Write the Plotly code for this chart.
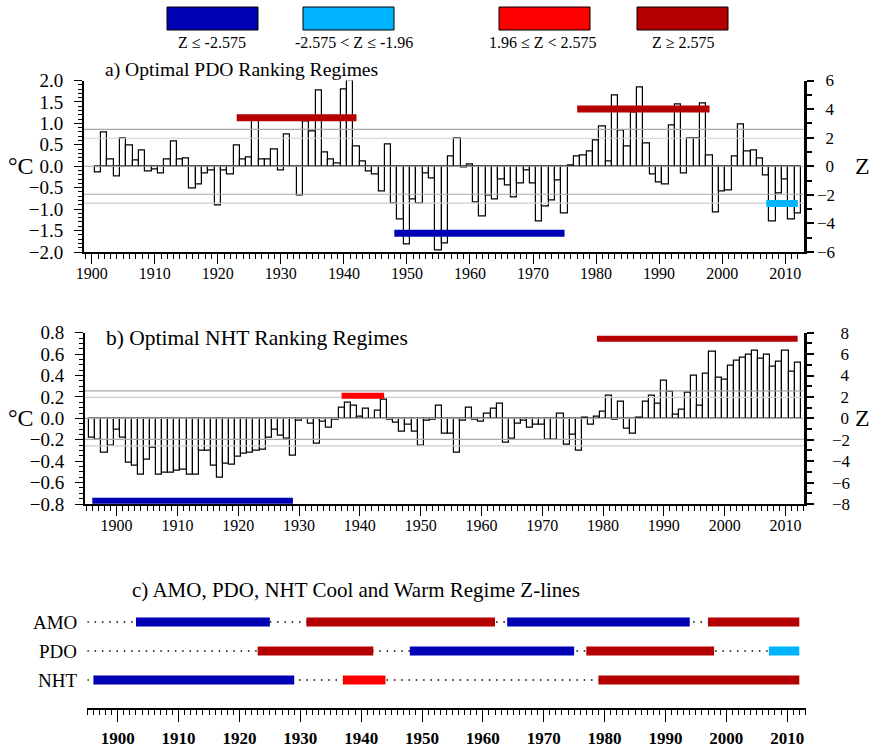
import plotly.graph_objects as go

# ---------------- data ----------------
pdo_years = list(range(1901, 2013))
pdo_values = [
    -0.14, 0.78, 0.16, -0.25, 0.65, 0.49, 0.14, 0.375, -0.125, -0.08,   # 1901-1910
    -0.16, 0.16, 0.58, 0.16, 0.18, -0.52, -0.43, -0.16, -0.09, -0.92,   # 1911-1920
    -0.09, -0.20, 0.48, 0.16, 0.20, 1.10, 0.16, 0.16, 0.40, -0.09,      # 1921-1930
    0.75, -0.01, -0.68, 1.05, 0.80, 1.76, 0.32, 0.16, 0.06, 1.78,       # 1931-1940
    2.00, 0.47, 0.12, -0.13, -0.19, -0.59, 0.51, -0.875, -1.24, -1.83,  # 1941-1950
    -0.77, -0.875, -0.16, -0.29, -1.97, -1.81, 0.23, 0.65, -0.03, 0.05, # 1951-1960
    -0.84, -1.17, -0.68, -0.77, -0.31, -0.46, -0.74, -0.41, -0.09, -0.41,  # 1961-1970
    -1.30, -0.93, -0.81, -0.34, -1.11, 0.01, 0.23, 0.25, 0.34, 0.61,    # 1971-1980
    0.92, 0.11, 1.66, 0.84, 0.45, 1.26, 1.84, 0.53, -0.19, -0.37,       # 1981-1990
    -0.43, 0.94, 1.45, -0.17, 0.65, 0.65, 1.47, 0.24, -1.07, -0.60,     # 1991-2000
    -0.56, 0.22, 0.98, 0.35, 0.37, 0.18, -0.21, -1.30, -0.625, -0.31,   # 2001-2010
    -1.24, -1.11,                                                       # 2011-2012
]

nht_years = list(range(1896, 2013))
nht_values = [
    -0.18, -0.20, -0.32, -0.26,                                         # 1896-1899
    -0.11, -0.18, -0.41, -0.44, -0.53, -0.39, -0.27, -0.53, -0.51, -0.51,  # 1900-1909
    -0.49, -0.48, -0.53, -0.53, -0.30, -0.30, -0.44, -0.55, -0.42, -0.43,  # 1910-1919
    -0.36, -0.33, -0.32, -0.30, -0.29, -0.18, -0.11, -0.16, -0.19, -0.35,  # 1920-1929
    -0.02, -0.005, -0.05, -0.24, -0.03, -0.085, -0.016, 0.10, 0.15, 0.12,  # 1930-1939
    0.016, 0.094, -0.006, 0.07, 0.17, -0.016, -0.04, -0.12, -0.06, -0.12,  # 1940-1949
    -0.26, -0.025, -0.01, 0.12, -0.14, -0.14, -0.32, -0.025, 0.10, -0.01,  # 1950-1959
    -0.03, 0.04, 0.09, 0.135, -0.23, -0.19, -0.05, -0.02, -0.085, -0.06,   # 1960-1969
    -0.06, -0.195, -0.20, 0.04, -0.25, -0.15, -0.305, 0.01, -0.06, 0.02,   # 1970-1979
    0.066, 0.21, -0.016, 0.16, -0.094, -0.14, 0.01, 0.154, 0.21, 0.14,     # 1980-1989
    0.35, 0.245, 0.035, 0.08, 0.24, 0.40, 0.116, 0.42, 0.62, 0.38,         # 1990-1999
    0.36, 0.49, 0.54, 0.57, 0.59, 0.635, 0.56, 0.59, 0.48, 0.525,          # 2000-2009
    0.63, 0.44, 0.52,                                                      # 2010-2012
]

# regime Z-lines (start year, end year, Z level, class)
pdo_reg_start = [1923, 1948, 1977, 2007]
pdo_reg_end = [1942, 1975, 1998, 2012]
pdo_reg_z = [3.4, -4.69, 4.0, -2.61]
pdo_reg_class = ["warm99", "cool99", "warm99", "cool95"]

nht_reg_start = [1896, 1937, 1979]
nht_reg_end = [1929, 1944, 2012]
nht_reg_z = [-7.7, 2.12, 7.43]
nht_reg_class = ["cool99", "warm95", "warm99"]

amo_reg_start = [1903, 1931, 1964, 1997]
amo_reg_end = [1925, 1962, 1994, 2012]
amo_reg_class = ["cool99", "warm99", "cool99", "warm99"]

regime_rows = ["AMO", "PDO", "NHT"]
row_span_start = 1895
row_span_end = 2012

z_ticks_a = [-6, -4, -2, 0, 2, 4, 6]
z_ticks_b = [-8, -6, -4, -2, 0, 2, 4, 6, 8]

z_thresholds = [1.96, 2.575]
legend_classes = ["cool99", "cool95", "warm95", "warm99"]
legend_labels = ["Z ≤ -2.575", "-2.575 < Z ≤ -1.96", "1.96 ≤ Z < 2.575", "Z ≥ 2.575"]

titles = ["a) Optimal PDO Ranking Regimes",
          "b) Optimal NHT Ranking Regimes",
          "c) AMO, PDO, NHT Cool and Warm Regime Z-lines"]

# ---------------- styling ----------------
W, H = 870, 750
FONT = "Liberation Serif, Times New Roman, serif"
COLORS = {"cool99": "#0000b4", "cool95": "#00b4ff", "warm95": "#ff0000", "warm99": "#b40000"}
XR_A = [1898.78, 2012.9]
XR_B = [1894.8, 2013.0]
XR_C = [1895, 2013.1]


def px(x):
    return x / W


def py(y):
    return 1 - y / H


def zlabels(vals):
    # right-aligned labels: positive numbers padded with an en space in place of the minus
    return [("\u2212" + str(abs(v)) if v < 0 else "\u2002" + str(v)) for v in vals]


# reference levels (Z): thresholds and zero, with their grey shades
ref_levels = [(z_thresholds[1], "#a8a8a8"), (z_thresholds[0], "#cfcfcf"),
              (-z_thresholds[0], "#a8a8a8"), (-z_thresholds[1], "#cfcfcf"), (0, "#a8a8a8")]

fig = go.Figure()

# ---------- Panel a ----------
fig.add_trace(go.Bar(x=pdo_years, y=pdo_values, width=1.0, xaxis="x", yaxis="y",
                     marker=dict(color="rgba(0,0,0,0)", line=dict(color="black", width=1.2)),
                     showlegend=False, hoverinfo="x+y"))
for z, col in ref_levels:
    fig.add_trace(go.Scatter(x=XR_A, y=[z, z], mode="lines", xaxis="x", yaxis="y2",
                             line=dict(color=col, width=1.2), showlegend=False, hoverinfo="skip"))
for s, e, z, c in zip(pdo_reg_start, pdo_reg_end, pdo_reg_z, pdo_reg_class):
    fig.add_trace(go.Scatter(x=[s, e], y=[z, z], mode="lines", xaxis="x", yaxis="y2",
                             line=dict(color=COLORS[c], width=7), showlegend=False))

# ---------- Panel b ----------
fig.add_trace(go.Bar(x=nht_years, y=nht_values, width=1.0, xaxis="x2", yaxis="y3",
                     marker=dict(color="rgba(0,0,0,0)", line=dict(color="black", width=1.2)),
                     showlegend=False, hoverinfo="x+y"))
for z, col in ref_levels:
    fig.add_trace(go.Scatter(x=XR_B, y=[z, z], mode="lines", xaxis="x2", yaxis="y4",
                             line=dict(color=col, width=1.2), showlegend=False, hoverinfo="skip"))
for s, e, z, c in zip(nht_reg_start, nht_reg_end, nht_reg_z, nht_reg_class):
    fig.add_trace(go.Scatter(x=[s, e], y=[z, z], mode="lines", xaxis="x2", yaxis="y6",
                             line=dict(color=COLORS[c], width=6), showlegend=False))

# ---------- Panel c ----------
row_sets = {
    "AMO": (amo_reg_start, amo_reg_end, amo_reg_class),
    "PDO": (pdo_reg_start, pdo_reg_end, pdo_reg_class),
    "NHT": (nht_reg_start, nht_reg_end, nht_reg_class),
}
for i, name in enumerate(regime_rows):
    yv = len(regime_rows) - i
    fig.add_trace(go.Scatter(x=[row_span_start, row_span_end], y=[yv, yv], mode="lines",
                             xaxis="x3", yaxis="y5",
                             line=dict(color="black", width=1.5, dash="1.5px,5.8px"),
                             showlegend=False, hoverinfo="skip"))
    starts, ends, classes = row_sets[name]
    for s, e, c in zip(starts, ends, classes):
        fig.add_trace(go.Scatter(x=[s, e], y=[yv, yv], mode="lines", xaxis="x3", yaxis="y5",
                                 line=dict(color=COLORS[c], width=9), showlegend=False))

shapes = []
annotations = []

# legend boxes
box_x = [(167, 258), (303, 394), (499, 590), (637, 728)]
label_cx = [212, 354, 543, 683]
for (x0, x1), cx, cls, lab in zip(box_x, label_cx, legend_classes, legend_labels):
    shapes.append(dict(type="rect", xref="paper", yref="paper", x0=px(x0), x1=px(x1),
                       y0=py(30), y1=py(7), fillcolor=COLORS[cls], line=dict(color="black", width=1)))
    annotations.append(dict(text=lab, xref="paper", yref="paper", x=px(cx), y=py(42),
                            xanchor="center", yanchor="middle", showarrow=False,
                            font=dict(family=FONT, size=16, color="black")))

# titles
for t, (x, y), fs in zip(titles, [(103, 70), (104, 338), (130, 590)], [19.6, 21.5, 21]):
    annotations.append(dict(text=t, xref="paper", yref="paper", x=px(x), y=py(y),
                            xanchor="left", yanchor="middle", showarrow=False,
                            font=dict(family=FONT, size=fs, color="black")))

# unit labels
for yy in (166, 418):
    annotations.append(dict(text="°C", xref="paper", yref="paper", x=px(21), y=py(yy),
                            xanchor="center", yanchor="middle", showarrow=False,
                            font=dict(family=FONT, size=24, color="black")))
    annotations.append(dict(text="Z", xref="paper", yref="paper", x=px(862), y=py(yy),
                            xanchor="center", yanchor="middle", showarrow=False,
                            font=dict(family=FONT, size=24, color="black")))

# row labels panel c
for i, name in enumerate(regime_rows):
    annotations.append(dict(text=name, xref="x3 domain", yref="y5", x=-0.012,
                            y=len(regime_rows) - i, xanchor="right", yanchor="middle",
                            showarrow=False, font=dict(family=FONT, size=19, color="black")))

tick_font = dict(family=FONT, size=16, color="black")
ylab_font = dict(family=FONT, size=19, color="black")
zlab_font = dict(family=FONT, size=17, color="black")


def xax(domain, rng, anchor, font, ticklen=10, standoff=-4):
    return dict(domain=domain, range=rng, anchor=anchor, tick0=1900, dtick=10, automargin=False,
                ticks="outside", ticklen=ticklen, tickwidth=1.3, tickcolor="black",
                minor=dict(dtick=1, ticks="outside", ticklen=5, tickwidth=1, tickcolor="black"),
                showline=True, linewidth=2, linecolor="black", showgrid=False, zeroline=False,
                tickfont=font, ticklabelstandoff=standoff)


def yleft(domain, rng, dtick, mdtick, anchor):
    return dict(domain=domain, range=rng, anchor=anchor, tick0=0, dtick=dtick, tickformat=".1f",
                automargin=False, ticklabelstandoff=7,
                ticks="outside", ticklen=8, tickwidth=1.3, tickcolor="black",
                minor=dict(dtick=mdtick, ticks="outside", ticklen=4, tickwidth=1, tickcolor="black"),
                showline=True, linewidth=2, linecolor="black", showgrid=False, zeroline=False,
                tickfont=ylab_font)


def yright(rng, tvals, overlay, anchor, labels=True):
    return dict(range=rng, overlaying=overlay, side="right", anchor=anchor,
                tickmode="array", tickvals=tvals, ticktext=zlabels(tvals),
                showticklabels=labels, automargin=False,
                ticks="outside", ticklen=7, tickwidth=2, tickcolor="black",
                minor=dict(dtick=1, tick0=0, ticks="outside", ticklen=5, tickwidth=1.5,
                           tickcolor="black"),
                showline=True, linewidth=3, linecolor="black", showgrid=False, zeroline=False,
                tickfont=zlab_font)


fig.update_layout(
    width=W, height=H, margin=dict(l=0, r=0, t=0, b=0, autoexpand=False),
    paper_bgcolor="white", plot_bgcolor="white",
    showlegend=False, bargap=0,
    xaxis=xax([px(84), px(803.5)], XR_A, "y", tick_font),
    yaxis=yleft([py(252), py(80.5)], [-2, 2], 0.5, 0.1, "x"),
    yaxis2=yright([-6, 6], z_ticks_a, "y", "x"),
    xaxis2=xax([px(85), px(803.7)], XR_B, "y3", tick_font),
    yaxis3=yleft([py(504), py(332.7)], [-0.8, 0.8], 0.2, 0.05, "x2"),
    yaxis4=yright([-8, 8], z_ticks_b, "y3", "x2", labels=False),
    # label-only Z axis for panel b, set further out as in the original
    yaxis6=dict(range=[-8, 8], overlaying="y3", side="right", anchor="free", position=px(831),
                tickmode="array", tickvals=z_ticks_b, ticktext=zlabels(z_ticks_b),
                ticks="", showline=False, showgrid=False, zeroline=False, automargin=False,
                tickfont=zlab_font),
    xaxis3=xax([px(87.3), px(806)], XR_C, "y5",
               dict(family=FONT, size=17, color="black", weight="bold"), ticklen=12, standoff=2),
    yaxis5=dict(domain=[py(708), py(610)], range=[0.0345, 3.414], anchor="x3", visible=False),
    shapes=shapes, annotations=annotations,
)

fig.write_html(
    "out.html",
    config={"displayModeBar": False},
    post_script="document.body.style.margin='0';document.documentElement.style.overflow='hidden';",
)
